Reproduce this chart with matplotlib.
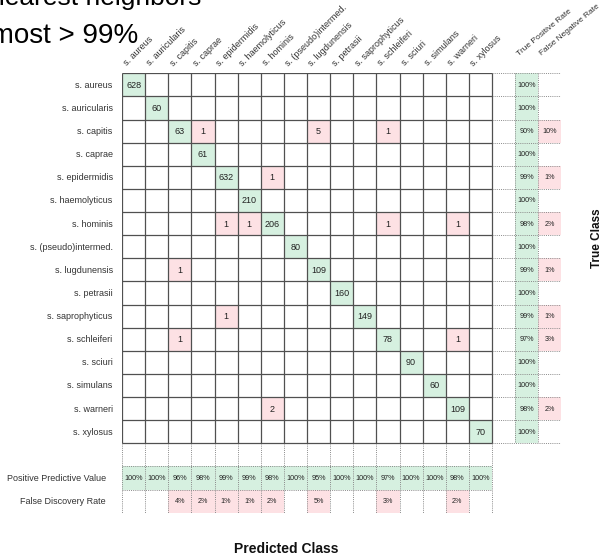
import matplotlib
matplotlib.use("Agg")
import matplotlib.pyplot as plt
from matplotlib.patches import Rectangle

plt.rcParams['font.family'] = ['Liberation Sans', 'DejaVu Sans']

# Staphylococcus species (true class = rows, predicted class = columns)
classes = [
    "s. aureus", "s. auricularis", "s. capitis", "s. caprae",
    "s. epidermidis", "s. haemolyticus", "s. hominis", "s. (pseudo)intermed.",
    "s. lugdunensis", "s. petrasii", "s. saprophyticus", "s. schleiferi",
    "s. sciuri", "s. simulans", "s. warneri", "s. xylosus",
]

counts = [
    [628, 0, 0, 0, 0, 0, 0, 0, 0, 0, 0, 0, 0, 0, 0, 0],
    [0, 60, 0, 0, 0, 0, 0, 0, 0, 0, 0, 0, 0, 0, 0, 0],
    [0, 0, 63, 1, 0, 0, 0, 0, 5, 0, 0, 1, 0, 0, 0, 0],
    [0, 0, 0, 61, 0, 0, 0, 0, 0, 0, 0, 0, 0, 0, 0, 0],
    [0, 0, 0, 0, 632, 0, 1, 0, 0, 0, 0, 0, 0, 0, 0, 0],
    [0, 0, 0, 0, 0, 210, 0, 0, 0, 0, 0, 0, 0, 0, 0, 0],
    [0, 0, 0, 0, 1, 1, 206, 0, 0, 0, 0, 1, 0, 0, 1, 0],
    [0, 0, 0, 0, 0, 0, 0, 80, 0, 0, 0, 0, 0, 0, 0, 0],
    [0, 0, 1, 0, 0, 0, 0, 0, 109, 0, 0, 0, 0, 0, 0, 0],
    [0, 0, 0, 0, 0, 0, 0, 0, 0, 160, 0, 0, 0, 0, 0, 0],
    [0, 0, 0, 0, 1, 0, 0, 0, 0, 0, 149, 0, 0, 0, 0, 0],
    [0, 0, 1, 0, 0, 0, 0, 0, 0, 0, 0, 78, 0, 0, 1, 0],
    [0, 0, 0, 0, 0, 0, 0, 0, 0, 0, 0, 0, 90, 0, 0, 0],
    [0, 0, 0, 0, 0, 0, 0, 0, 0, 0, 0, 0, 0, 60, 0, 0],
    [0, 0, 0, 0, 0, 0, 2, 0, 0, 0, 0, 0, 0, 0, 109, 0],
    [0, 0, 0, 0, 0, 0, 0, 0, 0, 0, 0, 0, 0, 0, 0, 70],
]

# Per-class rates in percent
true_positive_rate = [100, 100, 90, 100, 99, 100, 98, 100, 99, 100, 99, 97, 100, 100, 98, 100]
false_negative_rate = [0, 0, 10, 0, 1, 0, 2, 0, 1, 0, 1, 3, 0, 0, 2, 0]
positive_predictive_value = [100, 100, 96, 98, 99, 99, 98, 100, 95, 100, 100, 97, 100, 100, 98, 100]
false_discovery_rate = [0, 0, 4, 2, 1, 1, 2, 0, 5, 0, 0, 3, 0, 0, 2, 0]

rate_columns = ["True Positive Rate", "False Negative Rate"]
rate_rows = ["Positive Predictive Value", "False Discovery Rate"]

GREEN = '#d6f0e0'
PINK = '#fde1e4'
GRID = '#505050'
DOT = '#8a8a8a'
TXT = '#333333'

n = len(classes)
W, H = 607, 555
fig = plt.figure(figsize=(W / 100, H / 100), dpi=100)
fig.patch.set_facecolor('white')

grid_left, grid_top, grid_size = 122, 73.3, 439.4
ax = fig.add_axes([grid_left / W, 1 - (grid_top + grid_size) / H, grid_size / W, grid_size / H])
ax.set_xlim(0, n + 3)
ax.set_ylim(n + 3, 0)
ax.axis('off')


def cell(col, row, color, label, size):
    if color is not None:
        ax.add_patch(Rectangle((col, row), 1, 1, facecolor=color, edgecolor='none', zorder=1))
    ax.text(col + 0.5, row + 0.52, label, ha='center', va='center',
            fontsize=size, color='#222222', zorder=3)


# confusion matrix cells
for i in range(n):
    for j in range(n):
        v = counts[i][j]
        if v:
            cell(j, i, GREEN if i == j else PINK, str(v), 6.5)

# true positive / false negative rates per row
for i in range(n):
    if true_positive_rate[i]:
        cell(n + 1, i, GREEN, f"{true_positive_rate[i]}%", 5.2)
    if false_negative_rate[i]:
        cell(n + 2, i, PINK, f"{false_negative_rate[i]}%", 5.2)

# predictive value / discovery rate per column
for j in range(n):
    if positive_predictive_value[j]:
        cell(j, n + 1, GREEN, f"{positive_predictive_value[j]}%", 5.2)
    if false_discovery_rate[j]:
        cell(j, n + 2, PINK, f"{false_discovery_rate[j]}%", 5.2)

# dotted grid of the summary blocks
dot_kw = dict(colors=DOT, linewidth=0.7, linestyles=(0, (1, 1.2)), zorder=2)
for r in range(n + 1):
    ax.hlines(r, n, n + 3, **dot_kw)
for c in (n + 1, n + 2, n + 3):
    ax.vlines(c, 0, n, **dot_kw)
for r in (n + 1, n + 2, n + 3):
    ax.hlines(r, 0, n, **dot_kw)
for c in range(n + 1):
    ax.vlines(c, n, n + 3, **dot_kw)

# solid grid of the matrix
for k in range(n + 1):
    ax.hlines(k, 0, n, colors=GRID, linewidth=0.9, zorder=2.5)
    ax.vlines(k, 0, n, colors=GRID, linewidth=0.9, zorder=2.5)

# row labels
for i, name in enumerate(classes):
    ax.text(-0.4, i + 0.52, name, ha='right', va='center', fontsize=6.5, color=TXT)
for k, name in enumerate(rate_rows):
    ax.text(-0.7, n + 1 + k + 0.52, name, ha='right', va='center', fontsize=6.5, color=TXT)

# column labels
for j, name in enumerate(classes):
    ax.text(j + 0.28, -0.25, name, ha='left', va='bottom', rotation=45,
            rotation_mode='anchor', fontsize=6.5, color=TXT)
for k, name in enumerate(rate_columns):
    ax.text(n + 1 + k + 0.22, -0.7, name, ha='left', va='bottom', rotation=40,
            rotation_mode='anchor', fontsize=6, color=TXT)

# axis titles
fig.text(597 / W, 1 - 238 / H, "True Class", rotation=90, ha='center', va='center',
         fontsize=8.5, fontweight='bold', color='#111111')
fig.text(286 / W, 1 - 553 / H, "Predicted Class", ha='center', va='baseline',
         fontsize=10, fontweight='bold', color='#111111')

# heading
fig.text(-32 / W, 1 - 5 / H, "k-nearest neighbors", ha='left', va='baseline',
         fontsize=19, color='black')
fig.text(-34 / W, 1 - 43 / H, "Almost > 99%", ha='left', va='baseline',
         fontsize=20, color='black')

fig.savefig("out.png", dpi=100, facecolor='white')
